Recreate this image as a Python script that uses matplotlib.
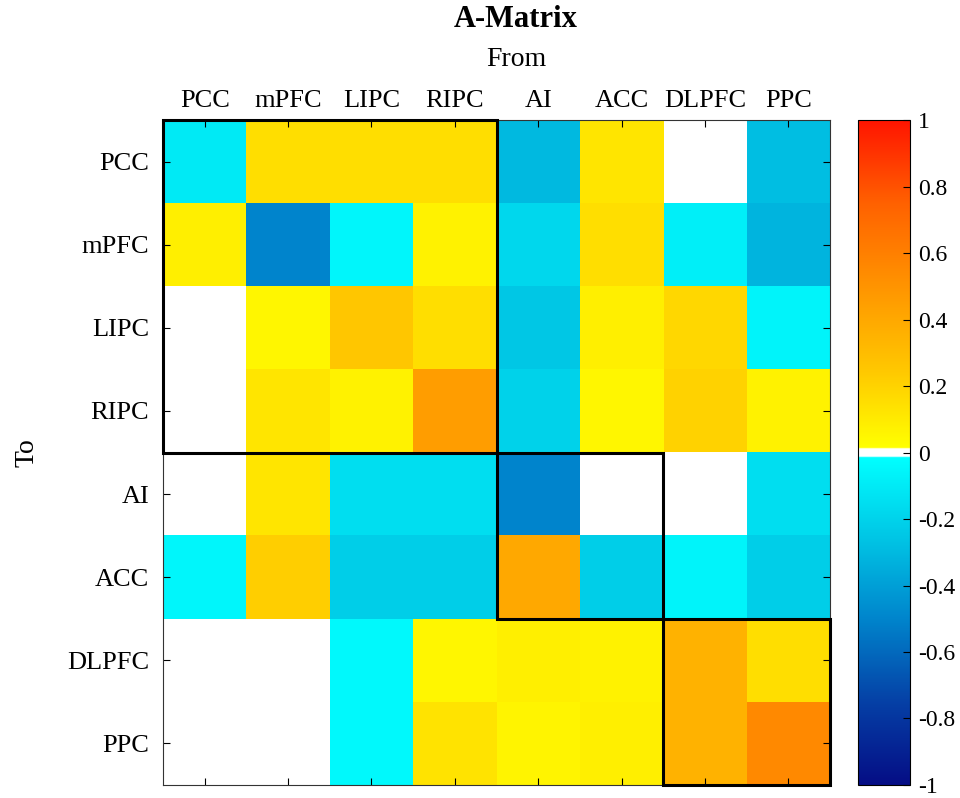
import numpy as np
import matplotlib
matplotlib.use("Agg")
import matplotlib.pyplot as plt
from matplotlib.colors import LinearSegmentedColormap
from matplotlib.patches import Rectangle

plt.rcParams['font.family'] = ['Liberation Serif', 'DejaVu Serif']

regions = ["PCC", "mPFC", "LIPC", "RIPC", "AI", "ACC", "DLPFC", "PPC"]

# rows = To, columns = From
row_PCC   = [-0.10, 0.15, 0.15, 0.15, -0.30, 0.12, 0.00, -0.28]
row_mPFC  = [0.08, -0.50, -0.05, 0.07, -0.18, 0.15, -0.08, -0.32]
row_LIPC  = [0.00, 0.05, 0.25, 0.15, -0.25, 0.08, 0.18, -0.06]
row_RIPC  = [0.00, 0.12, 0.07, 0.45, -0.20, 0.05, 0.20, 0.07]
row_AI    = [0.00, 0.12, -0.15, -0.15, -0.50, 0.00, 0.00, -0.15]
row_ACC   = [-0.05, 0.22, -0.22, -0.22, 0.40, -0.22, -0.06, -0.22]
row_DLPFC = [0.00, 0.00, -0.04, 0.05, 0.08, 0.07, 0.35, 0.15]
row_PPC   = [0.00, 0.00, -0.04, 0.13, 0.06, 0.08, 0.35, 0.55]

# blocks (start index, size)
blocks = [(0, 4), (4, 2), (6, 2)]

A = np.array([row_PCC, row_mPFC, row_LIPC, row_RIPC,
              row_AI, row_ACC, row_DLPFC, row_PPC])

def p(v):
    return (v + 1) / 2

cmap = LinearSegmentedColormap.from_list("bwr_custom", [
    (p(-1.0), (0.02, 0.05, 0.52)),
    (p(-0.75), (0.02, 0.25, 0.65)),
    (p(-0.5), (0.0, 0.52, 0.80)),
    (p(-0.25), (0.0, 0.78, 0.90)),
    (p(-0.015), (0.0, 1.0, 1.0)),
    (p(-0.012), (1.0, 1.0, 1.0)),
    (p(0.012), (1.0, 1.0, 1.0)),
    (p(0.015), (1.0, 1.0, 0.0)),
    (p(0.25), (1.0, 0.78, 0.0)),
    (p(0.5), (1.0, 0.58, 0.0)),
    (p(0.75), (1.0, 0.38, 0.0)),
    (p(1.0), (1.0, 0.08, 0.0)),
], N=1024)

fig = plt.figure(figsize=(9.6, 7.98), dpi=100)
ax = fig.add_axes([0.1698, 0.0163, 0.6948, 0.8333])
cax = fig.add_axes([0.894, 0.0163, 0.054, 0.8333])

im = ax.imshow(A, cmap=cmap, vmin=-1, vmax=1, aspect='auto',
               interpolation='nearest')

for s, n in blocks:
    ax.add_patch(Rectangle((s - 0.5, s - 0.5), n, n, fill=False,
                           edgecolor='black', linewidth=2.2, zorder=5,
                           clip_on=False))

ax.set_xticks(range(len(regions)))
ax.set_yticks(range(len(regions)))
ax.set_xticklabels(regions, fontsize=19)
ax.set_yticklabels(regions, fontsize=19)
ax.tick_params(axis='x', top=True, bottom=True, labeltop=True,
               labelbottom=False, direction='in', length=5, width=0.8,
               pad=6)
ax.tick_params(axis='y', left=True, right=True, direction='in',
               length=5, width=0.8, pad=10)
for sp in ax.spines.values():
    sp.set_linewidth(0.8)
    sp.set_color('#333333')

ax.set_ylabel("To", fontsize=20, labelpad=20)
fig.text(0.5375, 0.925, "From", ha='center', va='center', fontsize=20)
fig.text(0.5375, 0.975, "A-Matrix", ha='center', va='center',
         fontsize=22, fontweight='bold')

cb = fig.colorbar(im, cax=cax)
cb.set_ticks(np.round(np.arange(-1, 1.01, 0.2), 1))
cb.set_ticklabels(["-1", "-0.8", "-0.6", "-0.4", "-0.2", "0",
                   "0.2", "0.4", "0.6", "0.8", "1"])
cax.tick_params(direction='in', length=5, width=0.8, labelsize=17, pad=6)
cb.outline.set_linewidth(0.8)

fig.savefig("out.png", dpi=100)
